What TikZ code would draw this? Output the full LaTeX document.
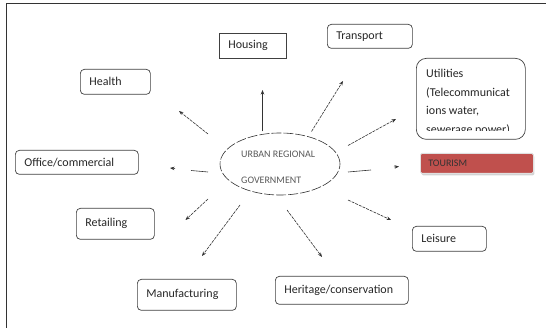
\documentclass[tikz,border=0pt]{standalone}
\usepackage{fontspec}
\setmainfont{Carlito}
\usetikzlibrary{arrows.meta,shadows,shapes.geometric}
\definecolor{tourred}{HTML}{C0504D}
\begin{document}
\begin{tikzpicture}[x=1pt,y=-1pt,
 box/.style={draw=black!75, line width=0.7pt, rounded corners=4pt, anchor=north west, inner xsep=9pt, inner ysep=0pt, align=left, font=\fontsize{12}{13}\selectfont, text=black!85},
 conn/.style={draw=black!80, line width=0.6pt, dash pattern=on 3pt off 1pt},
 tip/.style={-{Stealth[length=4.5pt,width=3.5pt]}},
]
\useasboundingbox (0,0) rectangle (546,328);
\draw[black!80, line width=0.8pt] (6,328) -- (6,3) -- (546,3);

\node[box, sharp corners, text width=49pt, minimum height=25pt] (housing) at (219,33) {Housing};
\node[box, text width=67pt, minimum height=24pt] (transport) at (327,24) {Transport};
\node[box, text width=52pt, minimum height=25pt] (health) at (80,69) {Health};
\node[box, text width=105pt, minimum height=24pt] (office) at (15,150) {Office/commercial};
\node[box, text width=60pt, minimum height=31pt] (retail) at (76,208) {Retailing};
\node[box, text width=56pt, minimum height=25pt] (leisure) at (412,226) {Leisure};
\node[box, text width=81pt, minimum height=31pt] (manuf) at (137,279) {Manufacturing};
\node[box, text width=115pt, minimum height=28pt] (heritage) at (275,276) {Heritage/conservation};

\node[box, rounded corners=10pt, minimum width=109pt, minimum height=81pt, inner sep=0pt] (util) at (416,58) {};
\begin{scope}
\clip (417,59) rectangle (524,130.5);
\node[anchor=north west, inner sep=0pt, align=left, font=\fontsize{12}{18.5}\selectfont, text=black!85] (utiltext) at (426,69) {Utilities\\(Telecommunicat\\ions water,\\sewerage power)};
\end{scope}

\node[anchor=north west, minimum width=113pt, minimum height=20pt, inner xsep=8pt, inner ysep=0pt, fill=tourred, draw=black!12, line width=0.8pt, rounded corners=1.5pt, drop shadow={shadow xshift=1pt, shadow yshift=-2pt, opacity=0.35}, font=\fontsize{10}{11}\selectfont, text=black!80, align=left, text width=97pt] (tourism) at (420,153) {TOURISM};

\node[ellipse, draw=black!80, line width=0.6pt, dash pattern=on 10pt off 2pt, minimum width=120pt, minimum height=62pt] (gov) at (280,164) {};
\node[anchor=west, inner sep=0pt, align=left, font=\fontsize{10}{26}\selectfont, text=black!65] (govtext) at (241,167) {URBAN REGIONAL\\GOVERNMENT};

% connectors
\coordinate (h1) at (262.5,131.5); \coordinate (h2) at (262.5,90);
\draw[conn, solid, tip] (h1) -- (h2);
\coordinate (tr1) at (311.5,131.5); \coordinate (tr2) at (343,81);
\draw[conn, tip] (tr1) -- (tr2);
\coordinate (he1) at (208,134); \coordinate (he2) at (179,111);
\draw[conn, tip] (he1) -- (he2);
\coordinate (u1) at (348,145.5); \coordinate (u2) at (396,119);
\draw[conn, tip] (u1) -- (u2);
\coordinate (o1) at (208,172); \coordinate (o2) at (191,170.5);
\coordinate (o3) at (175,168.5); \coordinate (o4) at (170,168);
\draw[conn, solid] (o1) -- (o2);
\draw[conn, solid, tip] (o3) -- (o4);
\coordinate (t1) at (348,172); \coordinate (t2) at (371,170);
\coordinate (t3) at (394,167); \coordinate (t4) at (399,166.5);
\draw[conn, solid] (t1) -- (t2);
\draw[conn, solid, tip] (t3) -- (t4);
\coordinate (l1) at (348,200); \coordinate (l2) at (391,220);
\draw[conn, tip] (l1) -- (l2);
\coordinate (r1) at (208,199); \coordinate (r2) at (185.5,220);
\draw[conn, tip] (r1) -- (r2);
\coordinate (m1) at (240,205); \coordinate (m2) at (202,256);
\draw[conn, tip] (m1) -- (m2);
\coordinate (hc1) at (287,210); \coordinate (hc2) at (322,257);
\draw[conn, tip] (hc1) -- (hc2);
\end{tikzpicture}
\end{document}
